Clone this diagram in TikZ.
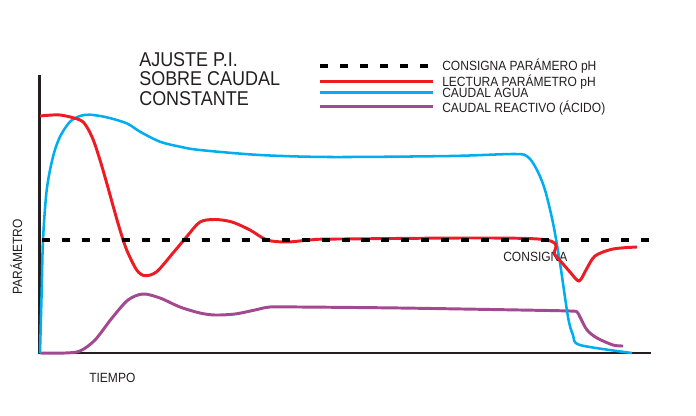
\documentclass[tikz,border=0pt]{standalone}
\usepackage{fontspec}
\setmainfont[FakeStretch=0.9]{Liberation Sans}
\definecolor{lecturared}{RGB}{237,28,36}
\definecolor{aguablue}{RGB}{0,174,239}
\definecolor{acidopurple}{RGB}{163,73,143}
\definecolor{axisblack}{RGB}{35,31,32}
\begin{document}
\begin{tikzpicture}[x=0.025cm, y=-0.025cm,
    consigna/.style={line width=2.8pt, dash pattern=on 5.7pt off 8.5pt},
    lectura/.style={line width=2.1pt, color=lecturared},
    agua/.style={line width=1.8pt, color=aguablue},
    acido/.style={line width=2.1pt, color=acidopurple},
    label/.style={inner sep=0pt, font=\fontsize{9.5pt}{11pt}\selectfont, text=axisblack},
    ]
        \useasboundingbox (0,0) rectangle (696,415);

        % title
        \node[inner sep=0pt, anchor=north west, align=left,
        font=\fontsize{14.2pt}{13.9pt}\selectfont, text=axisblack,
        ] (titulo) at (139,52) {AJUSTE P.I.\\SOBRE CAUDAL\\CONSTANTE};

        % legend
        \node[label, anchor=base west] (leyA) at (442,70) {CONSIGNA PARÁMERO pH};
        \node[label, anchor=base west] (leyB) at (442,86) {LECTURA PARÁMETRO pH};
        \node[label, anchor=base west] (leyC) at (442,97.3) {CAUDAL AGUA};
        \node[label, anchor=base west] (leyD) at (442,112) {CAUDAL REACTIVO (ÁCIDO)};
        \coordinate (legA) at (320,65.7);
        \coordinate (legB) at (320,81.7);
        \coordinate (legC) at (320,92.7);
        \coordinate (legD) at (320,106.7);
        \draw[consigna] (legA) -- (legA -| 430,0);
        \draw[lectura] (legB) -- (legB -| 433,0);
        \draw[agua] (legC) -- (legC -| 433,0);
        \draw[acido] (legD) -- (legD -| 433,0);

        % axes
        \coordinate (O) at (39.3,353);
        \draw[line width=2.1pt, color=axisblack] (39.3,75) -- (O) -- (651,353);

        \node[label, anchor=base west, rotate=90] (param) at (22,295) {PARÁMETRO};
        \node[label, anchor=base west] (tiempo) at (89,382) {TIEMPO};
        \node[label, anchor=base west] (cons) at (503,261.7) {CONSIGNA};

        % curves
        \draw[acido] plot[smooth, tension=0.5] coordinates {(40,353) (65,353) (80,351) (95,340)
            (112,318) (128,300) (143,294) (160,298) (180,307) (200,313) (215,315) (235,314)
            (255,310) (270,307) (300,307) (400,308) (520,310) (570,311) (577,312) (580,317)
            (587,330) (597,338) (613,345) (623,346)};
        \draw[agua] plot[smooth, tension=0.5] coordinates {(40,353) (41.7,290) (43,240) (46.7,190)
            (53,156.7) (60,136.7) (70,121.7) (80,116) (90,114.7) (106.7,117.3) (126.7,123.3)
            (140,131.7) (160,141.7) (180,146.7) (200,150) (260,155) (330,157) (450,156)
            (515,154) (528,157) (537,170) (545,190) (553,223) (560,263) (568,317) (573,335)
            (580,345) (632,353)};
        \draw[lectura] plot[smooth, tension=0.5] coordinates {(40,116) (60,115) (80,120)
            (86.7,126.7) (93.3,140) (100,160) (106.7,183) (113.3,206.7) (120,230) (126.7,250)
            (136.7,270) (145,275.7) (156.7,271.7) (173,253) (186.7,236.7) (200,222) (215,219.5)
            (232,222) (250,230) (267,240) (287,242) (310,240) (340,239) (538,239) (555,255)
            (570,272) (579,281) (586,270) (595,256) (613,249) (637,247)};
        \draw[consigna] (42,240) -- (650,240);
\end{tikzpicture}
\end{document}
